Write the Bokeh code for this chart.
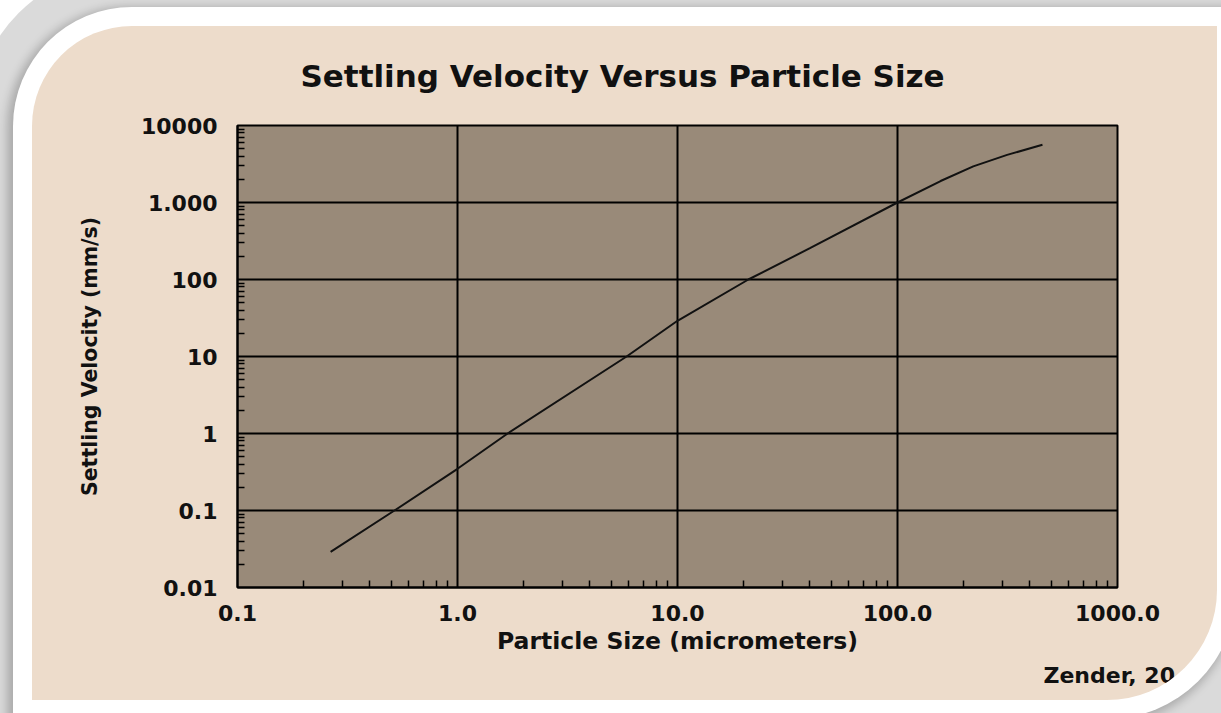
from bokeh.plotting import figure
from bokeh.models import FixedTicker, CustomJSTickFormatter, Title
from bokeh.embed import file_html
from bokeh.resources import INLINE

# ---- data ----
particle_size = [0.265, 0.517, 1.0, 1.69, 5.87, 10.0, 21.0, 40.0, 100.0, 157.0, 221.0, 315.0, 456.0]
settling_velocity = [0.029, 0.1, 0.348, 1.0, 10.0, 29.1, 100.0, 255.0, 1000.0, 1900.0, 2950.0, 4150.0, 5610.0]

x_ticks = [0.1, 1, 10, 100, 1000]
x_tick_labels = ["0.1", "1.0", "10.0", "100.0", "1000.0"]
y_ticks = [0.01, 0.1, 1, 10, 100, 1000, 10000]
y_tick_labels = ["0.01", "0.1", "1", "10", "100", "1.000", "10000"]

title_text = "Settling Velocity Versus Particle Size"
x_label_text = "Particle Size (micrometers)"
y_label_text = "Settling Velocity (mm/s)"
credit_text = "Zender, 20"

FONT = "DejaVu Sans"
TXT = "#111111"
PLOT_BG = "#998a79"
PANEL_BG = "#eddccb"

p = figure(width=1185, height=674, x_axis_type="log", y_axis_type="log",
           x_range=(x_ticks[0], x_ticks[-1]), y_range=(y_ticks[0], y_ticks[-1]),
           output_backend="svg", toolbar_location=None,
           min_border_left=205, min_border_right=100, min_border_top=99, min_border_bottom=113)

# slide-like panel: beige rounded panel inside a white frame with a soft grey surround
p.styles = {
    "margin-left": "32px",
    "margin-top": "26px",
    "background-color": PANEL_BG,
    "border-radius": "100px 0px 110px 0px",
    "overflow": "hidden",
    "box-shadow": "0px 0px 0px 19px #ffffff, -3px 3px 10px 22px rgba(0,0,0,0.22), 0px 0px 0px 60px #dadada",
}
p.border_fill_color = None
p.background_fill_color = PLOT_BG
p.outline_line_color = "black"
p.outline_line_width = 2

# title
p.title.text = title_text
p.title.align = "left"
p.title.offset = 63
p.title.standoff = 60
p.title.vertical_align = "top"
p.title.text_font = FONT
p.title.text_font_style = "bold"
p.title.text_font_size = "31px"
p.title.text_color = TXT

# ticks and tick labels
minor_x = [m * t for t in x_ticks[:-1] for m in range(2, 10)]
minor_y = [m * t for t in y_ticks[:-1] for m in range(2, 10)]
p.xaxis.ticker = FixedTicker(ticks=x_ticks, minor_ticks=minor_x)
p.yaxis.ticker = FixedTicker(ticks=y_ticks, minor_ticks=minor_y)

fmt_code = """
let best = 0, d = Infinity;
for (let i = 0; i < tvals.length; i++) {
  const e = Math.abs(Math.log10(tick) - Math.log10(tvals[i]));
  if (e < d) { d = e; best = i; }
}
return tlabels[best];
"""
p.xaxis.formatter = CustomJSTickFormatter(args=dict(tvals=x_ticks, tlabels=x_tick_labels), code=fmt_code)
p.yaxis.formatter = CustomJSTickFormatter(args=dict(tvals=y_ticks, tlabels=y_tick_labels), code=fmt_code)

for ax in (p.xaxis, p.yaxis):
    ax.axis_line_color = "black"
    ax.axis_line_width = 2
    ax.major_tick_out = 0
    ax.major_tick_in = 0
    ax.minor_tick_out = 0
    ax.minor_tick_in = 7
    ax.minor_tick_line_color = "black"
    ax.minor_tick_line_width = 1.5
    ax.major_label_text_font = FONT
    ax.major_label_text_font_style = "bold"
    ax.major_label_text_font_size = "22px"
    ax.major_label_text_color = TXT
    ax.axis_label_text_font = FONT
    ax.axis_label_text_font_style = "bold"
    ax.axis_label_text_color = TXT
p.yaxis.major_label_standoff = 20
p.xaxis.major_label_standoff = 17
p.xaxis.axis_label = x_label_text
p.xaxis.axis_label_text_font_size = "23.5px"
p.xaxis.axis_label_standoff = 3
p.yaxis.axis_label = y_label_text
p.yaxis.axis_label_text_font_size = "20.5px"
p.yaxis.axis_label_standoff = 36

# grid
p.grid.grid_line_color = "black"
p.grid.grid_line_width = 2
p.grid.grid_line_alpha = 1
p.xgrid.ticker = FixedTicker(ticks=x_ticks)
p.ygrid.ticker = FixedTicker(ticks=y_ticks)

# curve
p.line(particle_size, settling_velocity, line_color=TXT, line_width=2)

# source credit at the bottom right
p.add_layout(Title(text=credit_text, align="left", offset=806, standoff=11, vertical_align="top",
                   text_font=FONT, text_font_style="bold", text_font_size="22px", text_color=TXT), "below")

open("out.html", "w").write(file_html(p, INLINE))
